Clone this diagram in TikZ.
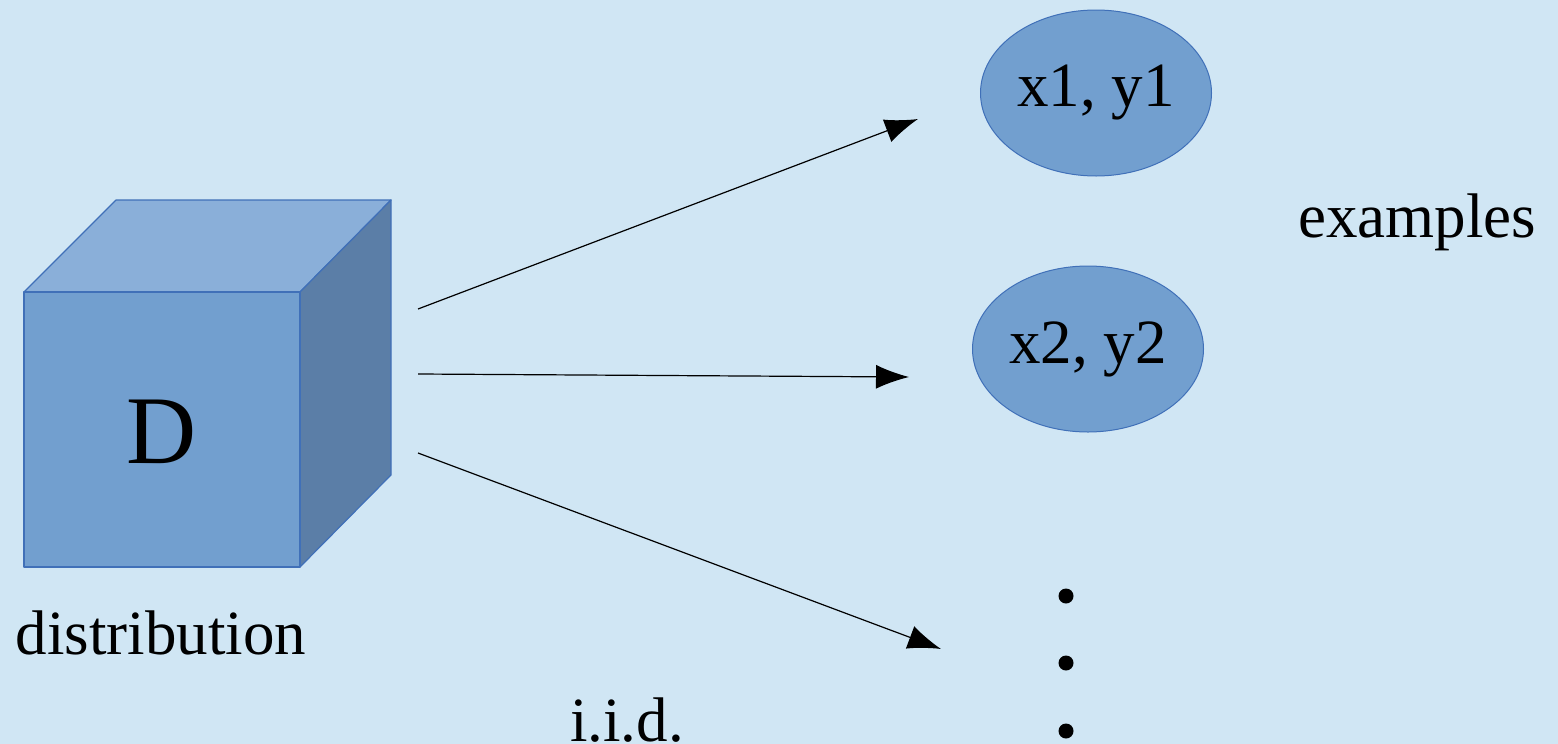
\documentclass[tikz,border=0pt]{standalone}
\usepackage{fontspec}
\setmainfont{Liberation Serif}
\usepackage{xcolor}
\usetikzlibrary{arrows.meta, positioning, calc, shapes.geometric}

\definecolor{bgblue}{HTML}{D0E6F4}
\definecolor{faceblue}{HTML}{729FCF}
\definecolor{topblue}{HTML}{8AAFD9}
\definecolor{sideblue}{HTML}{5B7EA7}
\definecolor{edgeblue}{HTML}{4070B8}

\begin{document}
\begin{tikzpicture}[
    x=0.5pt, y=-0.5pt,
    sample/.style={ellipse, draw=edgeblue, fill=faceblue, line width=0.5pt, inner sep=0pt, minimum width=115.5pt, minimum height=83pt, font=\fontsize{31.5}{36}\selectfont},
    label/.style={font=\fontsize{31.5}{36}\selectfont, inner sep=0pt},
    face/.style={draw=edgeblue, line width=0.6pt, line join=round},
    arrow/.style={-{Latex[length=16.5pt, width=12pt]}, line width=0.6pt, black},
    dot/.style={circle, fill=black, inner sep=0pt, minimum size=7.5pt}
]

% Background
\fill[bgblue] (0,0) rectangle (1558,744);
\useasboundingbox (0,0) rectangle (1558,744);

% Distribution cube
\fill[face, fill=topblue] (24,292) -- (116,200) -- (391,200) -- (300,292) -- cycle;
\fill[face, fill=sideblue] (300,292) -- (391,200) -- (391,475) -- (300,567) -- cycle;
\draw[face, fill=faceblue] (24,292) rectangle (300,567);
\node[label, font=\fontsize{48.5}{54}\selectfont] (dist) at (162,432) {D};
\node[label] (distlabel) at (161,633) {distribution};

% Examples
\node[sample] (ex1) at (1096,93) {x1, y1};
\node[sample] (ex2) at (1088,349) {x2, y2};
\node[label] (exlabel) at (1417,222) {examples};

% Dots
\node[dot] (d1) at (1066,596) {};
\node[dot] (d2) at (1066,663) {};
\node[dot] (d3) at (1066,731) {};

% Arrows
\coordinate (s1) at (418,309);
\coordinate (s2) at (418,374);
\coordinate (s3) at (418,453);
\coordinate (e1) at (918,119);
\coordinate (e2) at (909,377);
\coordinate (e3) at (941,649);
\draw[arrow] (s1) -- (e1);
\draw[arrow] (s2) -- (e2);
\draw[arrow] (s3) -- (e3);

\node[label, anchor=base] (iid) at (627,741) {i.i.d.};

\end{tikzpicture}
\end{document}
